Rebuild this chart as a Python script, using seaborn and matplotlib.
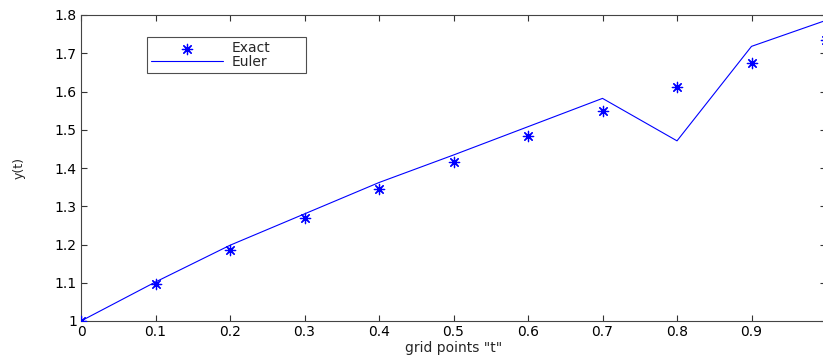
import matplotlib
matplotlib.use("Agg")
import matplotlib.pyplot as plt
import seaborn as sns
import pandas as pd

t = [0.0, 0.1, 0.2, 0.3, 0.4, 0.5, 0.6, 0.7, 0.8, 0.9, 1.0]
exact = [1.000, 1.096, 1.186, 1.268, 1.344, 1.416, 1.484, 1.550, 1.613, 1.674, 1.735]
euler = [1.000, 1.102, 1.198, 1.280, 1.362, 1.434, 1.508, 1.582, 1.471, 1.718, 1.786]
xticks = [0, 0.1, 0.2, 0.3, 0.4, 0.5, 0.6, 0.7, 0.8, 0.9]
xticklabels = ["0", "0.1", "0.2", "0.3", "0.4", "0.5", "0.6", "0.7", "0.8", "0.9"]
yticks = [1.0, 1.1, 1.2, 1.3, 1.4, 1.5, 1.6, 1.7, 1.8]
yticklabels = ["1", "1.1", "1.2", "1.3", "1.4", "1.5", "1.6", "1.7", "1.8"]

sns.set_style("white")
plt.rcParams["font.family"] = ["DejaVu Sans"]

df = pd.DataFrame({"t": t, "Exact": exact, "Euler": euler})

fig = plt.figure(figsize=(8.23, 3.56), dpi=100)
ax = fig.add_axes([81 / 823, 1 - 321 / 356, 745 / 823, 306 / 356])

sns.scatterplot(data=df, x="t", y="Exact", ax=ax, marker=(8, 2, 0), s=55,
                color="#0000ff", linewidth=0.9, edgecolor="#0000ff",
                label="Exact", zorder=3)
sns.lineplot(data=df, x="t", y="Euler", ax=ax, color="#0000ff", linewidth=0.8,
             label="Euler")

ax.set_xlim(0, 1)
ax.set_ylim(1, 1.8)
ax.set_xticks(xticks)
ax.set_xticklabels(xticklabels)
ax.set_yticks(yticks)
ax.set_yticklabels(yticklabels)
ax.tick_params(direction="in", length=4, width=0.8, colors="#333333",
               labelsize=10, top=True, right=True, bottom=True, left=True,
               labelcolor="black", pad=3)
for s in ax.spines.values():
    s.set_color("#444444")
    s.set_linewidth(0.8)
ax.spines["right"].set_visible(False)

ax.set_xlabel('grid points "t"', fontsize=10, labelpad=1)
ax.set_ylabel("y(t)", fontsize=9, labelpad=21)

x0 = (147 - 81) / 745
x1 = (306 - 81) / 745
y1 = (321 - 37) / 306
y0 = (321 - 74) / 306
leg = ax.legend(loc="upper left", bbox_to_anchor=(x0, y0, x1 - x0, y1 - y0),
                mode="expand", frameon=True, fancybox=False, fontsize=10,
                borderpad=0.3, labelspacing=0.0, handlelength=5.2,
                handletextpad=0.6, borderaxespad=0)
leg._legend_box.align = "left"
leg.get_frame().set_edgecolor("#222222")
leg.get_frame().set_linewidth(0.8)
fig.canvas.draw()
# nudge contents slightly right inside the frame like the reference
leg._legend_handle_box.set_offset if False else None

fig.savefig("out.png", dpi=100)
